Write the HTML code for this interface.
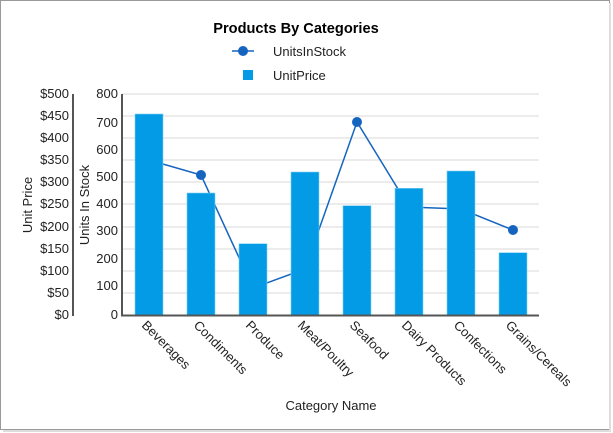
<!DOCTYPE html>
<html><head><style>
body{margin:0;background:#fff;}
svg{display:block;font-family:"Liberation Sans",Arial,sans-serif;}
</style></head><body>
<svg width="613" height="433" viewBox="0 0 613 433">
<rect x="0.5" y="0.5" width="609" height="429" fill="#fff" stroke="#9a9a9a"/>
<line x1="610" y1="3" x2="610" y2="431" stroke="#ddd" stroke-width="2"/>
<line x1="3" y1="431" x2="611" y2="431" stroke="#ddd" stroke-width="2"/>
<text x="296" y="33" font-size="14.6" font-weight="bold" text-anchor="middle" fill="#000">Products By Categories</text>
<line x1="232" y1="51" x2="254" y2="51" stroke="#1565c0" stroke-width="1.5"/>
<circle cx="243" cy="51" r="5" fill="#1565c0"/>
<text x="273" y="56" font-size="13" fill="#222">UnitsInStock</text>
<rect x="243" y="70" width="10" height="10" fill="#039be5"/>
<text x="273" y="80" font-size="13" fill="#222">UnitPrice</text>
<g stroke="#d9d9d9" stroke-width="1">
<line x1="122" y1="94" x2="539" y2="94"/><line x1="122" y1="116" x2="539" y2="116"/><line x1="122" y1="138" x2="539" y2="138"/><line x1="122" y1="160" x2="539" y2="160"/><line x1="122" y1="182" x2="539" y2="182"/><line x1="122" y1="204" x2="539" y2="204"/><line x1="122" y1="227" x2="539" y2="227"/><line x1="122" y1="249" x2="539" y2="249"/><line x1="122" y1="271" x2="539" y2="271"/><line x1="122" y1="293" x2="539" y2="293"/>
</g>
<g font-size="13" fill="#222" text-anchor="end">
<text x="118" y="98">800</text><text x="118" y="127">700</text><text x="118" y="154">600</text><text x="118" y="181">500</text><text x="118" y="208">400</text><text x="118" y="235">300</text><text x="118" y="263">200</text><text x="118" y="290">100</text><text x="118" y="319">0</text>
<text x="69" y="98">$500</text><text x="69" y="120">$450</text><text x="69" y="142">$400</text><text x="69" y="164">$350</text><text x="69" y="186">$300</text><text x="69" y="208">$250</text><text x="69" y="231">$200</text><text x="69" y="253">$150</text><text x="69" y="275">$100</text><text x="69" y="297">$50</text><text x="69" y="319">$0</text>
</g>
<line x1="73" y1="94" x2="73" y2="316" stroke="#555" stroke-width="2"/>
<line x1="122" y1="94" x2="122" y2="316" stroke="#555" stroke-width="2"/>
<text transform="translate(32,205) rotate(-90)" font-size="13" text-anchor="middle" fill="#222">Unit Price</text>
<text transform="translate(89,205) rotate(-90)" font-size="13" text-anchor="middle" fill="#222">Units In Stock</text>
<polyline points="149,160 201,175 253,288 305,269 357,122 409,207 461,209 513,230" fill="none" stroke="#1565c0" stroke-width="1.5"/>
<g fill="#1565c0"><circle cx="149" cy="160" r="5"/><circle cx="201" cy="175" r="5"/><circle cx="253" cy="288" r="5"/><circle cx="305" cy="269" r="5"/><circle cx="357" cy="122" r="5"/><circle cx="409" cy="207" r="5"/><circle cx="461" cy="209" r="5"/><circle cx="513" cy="230" r="5"/></g>
<g fill="#039be5" stroke="#7fd0f2" stroke-width="0.6">
<rect x="135" y="114" width="28" height="201"/>
<rect x="187" y="193" width="28" height="122"/>
<rect x="239" y="243.7" width="28" height="71.3"/>
<rect x="291" y="172" width="28" height="143"/>
<rect x="343" y="205.7" width="28" height="109.3"/>
<rect x="395" y="188.3" width="28" height="126.7"/>
<rect x="447" y="171" width="28" height="144"/>
<rect x="499" y="252.7" width="28" height="62.3"/>
</g>
<line x1="121" y1="315.5" x2="539" y2="315.5" stroke="#555" stroke-width="2"/>
<g font-size="13" fill="#222">
<text transform="translate(141,326) rotate(45)">Beverages</text>
<text transform="translate(193,326) rotate(45)">Condiments</text>
<text transform="translate(245,326) rotate(45)">Produce</text>
<text transform="translate(297,326) rotate(45)">Meat/Poultry</text>
<text transform="translate(349,326) rotate(45)">Seafood</text>
<text transform="translate(401,326) rotate(45)">Dairy Products</text>
<text transform="translate(453,326) rotate(45)">Confections</text>
<text transform="translate(505,326) rotate(45)">Grains/Cereals</text>
</g>
<text x="331" y="410" font-size="13" text-anchor="middle" fill="#222">Category Name</text>
</svg>
</body></html>
